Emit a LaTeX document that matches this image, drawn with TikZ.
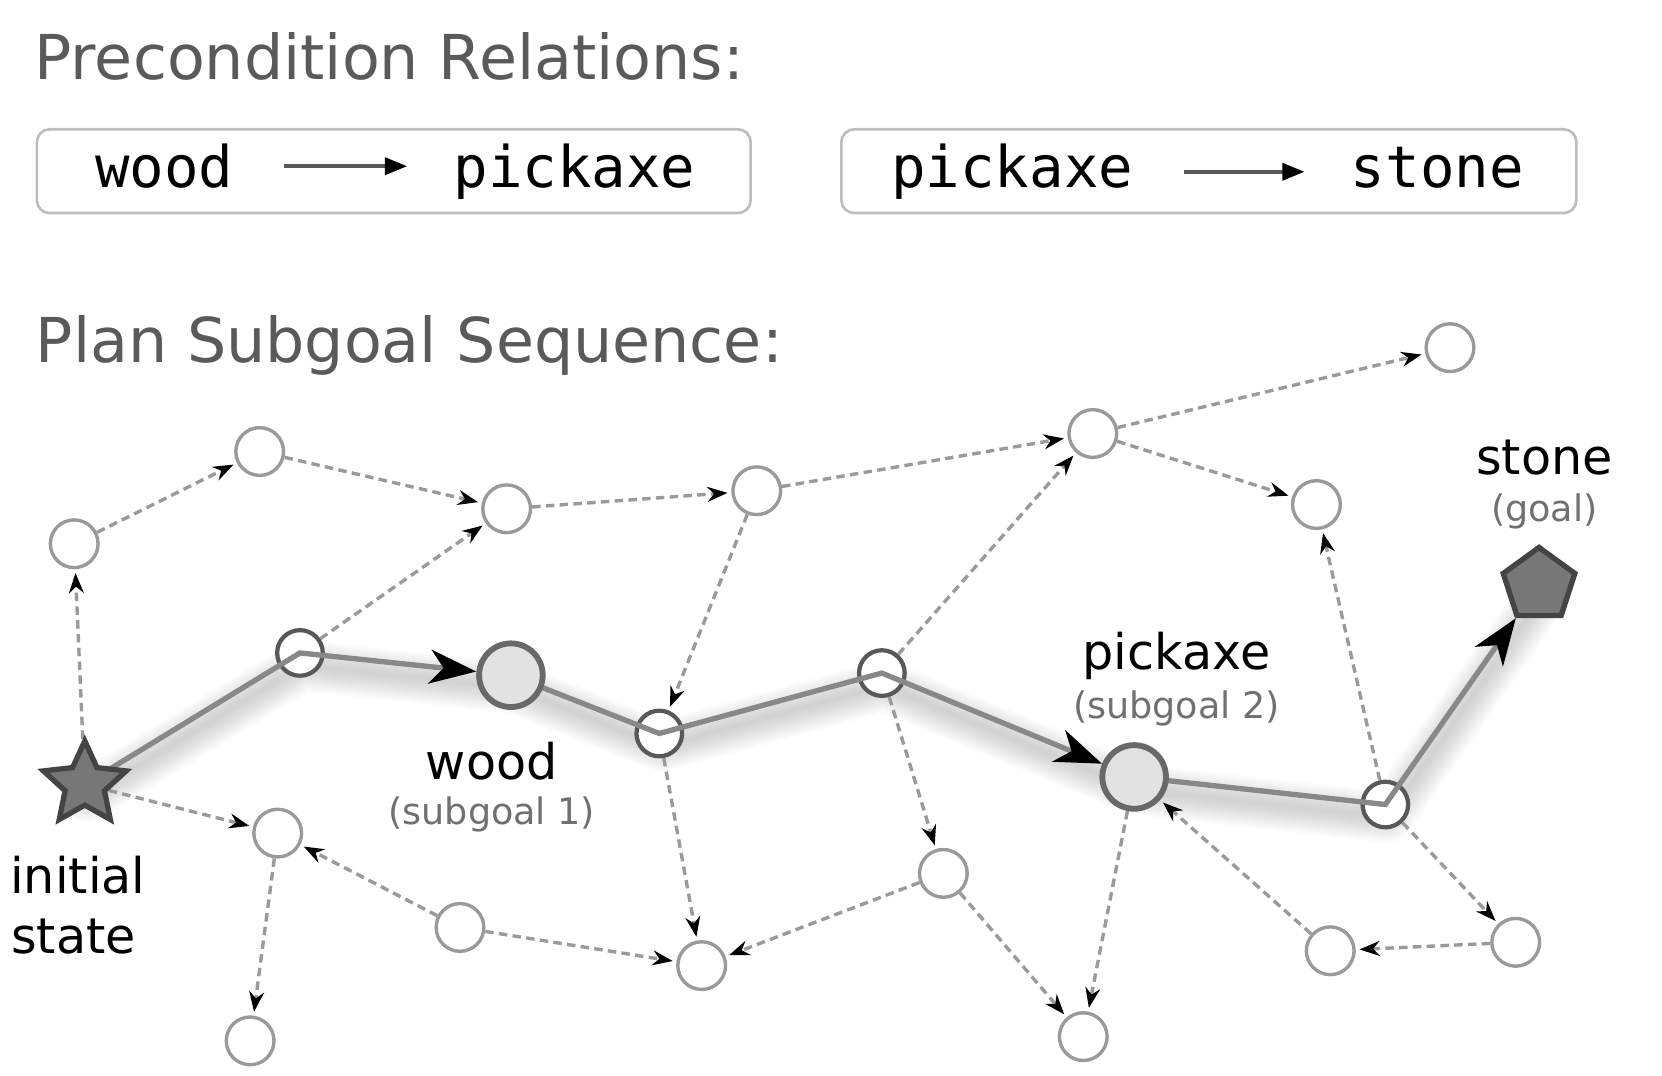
\documentclass[tikz,border=0pt]{standalone}
\usepackage{fontspec}
\setmainfont{DejaVu Sans}
\setmonofont{DejaVu Sans Mono}
\usetikzlibrary{shapes.geometric,positioning,arrows.meta}
\definecolor{titlegray}{RGB}{90,90,90}
\definecolor{subgray}{RGB}{112,112,112}
\definecolor{boxgray}{RGB}{189,189,189}
\definecolor{leafgray}{RGB}{154,154,154}
\definecolor{waygray}{RGB}{88,88,88}
\definecolor{pathgray}{RGB}{136,136,136}
\definecolor{subfill}{RGB}{226,226,226}
\definecolor{starfill}{RGB}{119,119,119}
\definecolor{stardraw}{RGB}{68,68,68}

\pgfdeclarelayer{shadow}
\pgfdeclarelayer{front}
\pgfsetlayers{shadow,main,front}

\tikzset{
  title/.style={font=\fontsize{16.6}{19}\selectfont, text=titlegray, inner sep=0},
  mono/.style={font=\ttfamily\fontsize{15.4}{18}\selectfont, inner sep=0},
  lbl/.style={font=\fontsize{13.2}{15}\selectfont, inner sep=0},
  sublbl/.style={font=\fontsize{9.8}{12}\selectfont, text=subgray, inner sep=0},
  relbox/.style={draw=boxgray, line width=0.025cm, rounded corners=0.12cm, minimum height=0.79cm},
  relarrow/.style={draw=waygray, line width=0.035cm, shorten <=0.47cm, shorten >=0.43cm,
    -{Triangle[length=0.21cm, width=0.16cm, color=black]}},
  leaf/.style={circle, draw=leafgray, fill=white, line width=0.032cm, minimum size=0.45cm, inner sep=0},
  waypt/.style={circle, draw=waygray, fill=white, line width=0.04cm, minimum size=0.43cm, inner sep=0},
  subgoal/.style={circle, draw=waygray!90, fill=subfill, line width=0.055cm, minimum size=0.6cm, inner sep=0},
  start/.style={star, star points=5, star point ratio=2.1, draw=stardraw, fill=starfill,
    line width=0.05cm, minimum size=0.82cm, inner sep=0},
  goal/.style={regular polygon, regular polygon sides=5, draw=stardraw, fill=starfill,
    line width=0.05cm, minimum size=0.71cm, inner sep=0},
  dep/.style={draw=leafgray, line width=0.032cm, dash pattern=on 0.08cm off 0.05cm, shorten >=1pt,
    -{Stealth[length=0.19cm, width=0.14cm, color=black]}},
  mainline/.style={draw=pathgray, line width=0.05cm,
    -{Stealth[length=0.44cm, width=0.32cm, inset=0.13cm, color=black]}}
}

\begin{document}
\begin{tikzpicture}[x=0.01cm, y=-0.01cm]
\useasboundingbox (0,0) rectangle (1568,1015);

\node[title, anchor=base west] (t1) at (32,75) {Precondition Relations:};
\node[relbox, minimum width=6.73cm] (r1) at (371.5,161.5) {};
\node[mono, anchor=base] (r1a) at (155,177) {wood};
\node[mono, anchor=base] (r1b) at (542,177) {pickaxe};
\draw[relarrow] (r1a.east) -- (r1a.east -| r1b.west);

\node[relbox, minimum width=6.93cm] (r2) at (1140.5,161.5) {};
\node[mono, anchor=base] (r2a) at (955,177) {pickaxe};
\node[mono, anchor=base] (r2b) at (1356,177) {stone};
\draw[relarrow] (r2a.east) -- (r2a.east -| r2b.west);

\node[title, anchor=base west] (t2) at (33,342) {Plan Subgoal Sequence:};

\begin{pgfonlayer}{front}
\node[start] (star) at (80,740) {};
\node[subgoal] (wood) at (482,637) {};
\node[subgoal] (pick) at (1070,733) {};
\node[goal] (stone) at (1452,552) {};
\end{pgfonlayer}

\node[waypt] (p1) at (283,616) {};
\node[waypt] (p2) at (622,692) {};
\node[waypt] (p3) at (832,635) {};
\node[waypt] (p4) at (1307,759) {};

\node[leaf] (s1) at (70,513) {};
\node[leaf] (s2) at (245,426) {};
\node[leaf] (s3) at (478,480) {};
\node[leaf] (s4) at (714,463) {};
\node[leaf] (s5) at (1031,409) {};
\node[leaf] (s6) at (1368,328) {};
\node[leaf] (s7) at (1242,476) {};
\node[leaf] (s8) at (262,786) {};
\node[leaf] (s9) at (434,875) {};
\node[leaf] (s10) at (662,911) {};
\node[leaf] (s11) at (890,824) {};
\node[leaf] (s12) at (236,982) {};
\node[leaf] (s13) at (1022,978) {};
\node[leaf] (s14) at (1255,897) {};
\node[leaf] (s15) at (1430,889) {};

\foreach \a/\b in {star/s1, s1/s2, s2/s3, p1/s3, s3/s4, s4/p2, s4/s5, p3/s5, s5/s6, s5/s7,
  p4/s7, star/s8, s8/s12, s9/s8, s9/s10, p2/s10, s11/s10, p3/s11, s11/s13, pick/s13,
  s14/pick, p4/s15, s15/s14}
  \draw[dep] (\a) -- (\b);

\begin{pgfonlayer}{shadow}
\begin{scope}[transform canvas={xshift=0.02cm, yshift=-0.12cm}]
\foreach \w in {0.04,0.08,0.12,0.16,0.20,0.24,0.28,0.32,0.36,0.40,0.44,0.48}
  \draw[black, opacity=0.017, line width=\w cm, line join=round, line cap=round]
    (star.center) -- (p1.center) -- (wood.center) -- (p2.center) -- (p3.center)
    -- (pick.center) -- (p4.center) -- (stone.center);
\end{scope}
\end{pgfonlayer}

\draw[mainline] (star.center) -- (p1.center) -- (wood);
\draw[mainline] (wood.center) -- (p2.center) -- (p3.center) -- (pick);
\draw[mainline] (pick.center) -- (p4.center) -- (stone);

\node[lbl, anchor=base] (woodlbl) at (464,735) {wood};
\node[sublbl, anchor=base] (woodsub) at (464,778) {(subgoal 1)};
\node[lbl, anchor=base] (picklbl) at (1110,632) {pickaxe};
\node[sublbl, anchor=base] (picksub) at (1110,678) {(subgoal 2)};
\node[lbl, anchor=base] (stonelbl) at (1457,448) {stone};
\node[sublbl, anchor=base] (stonesub) at (1457,492) {(goal)};
\node[lbl, anchor=base west] (initlbl) at (9,843) {initial};
\node[lbl, anchor=base west] (statelbl) at (10,900) {state};
\end{tikzpicture}
\end{document}
